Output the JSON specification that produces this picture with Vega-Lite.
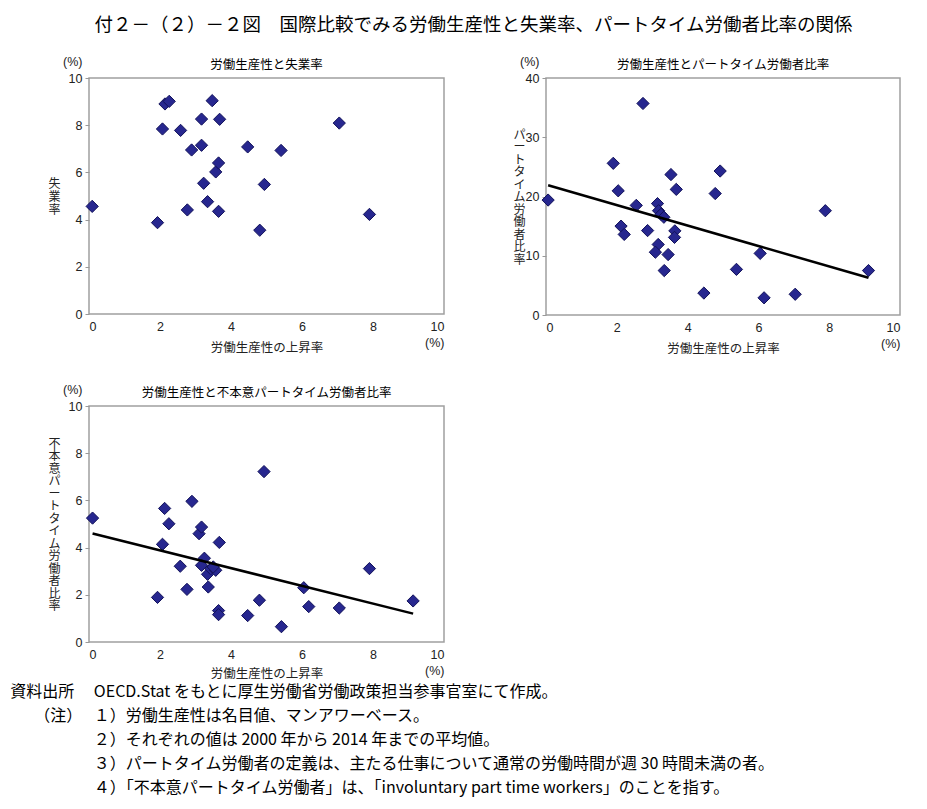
{
  "$schema": "https://vega.github.io/schema/vega-lite/v6.json",
  "padding": {"left": 10, "top": 15, "right": 5, "bottom": 5},
  "background": "white",
  "config": {
    "font": "Noto Sans CJK JP",
    "view": {"stroke": "#a0a0a0", "strokeWidth": 1.5},
    "axis": {
      "labelFont": "Liberation Sans",
      "labelFontSize": 12.5,
      "labelColor": "#222222",
      "titleFont": "Noto Sans CJK JP",
      "titleFontSize": 12.5,
      "titleFontWeight": "normal",
      "titleColor": "#222222",
      "grid": false,
      "domain": false,
      "tickColor": "#999999",
      "tickSize": 4,
      "labelOverlap": false,
      "labelBound": false
    },
    "title": {"font": "Noto Sans CJK JP", "fontWeight": "normal", "color": "#000000"}
  },
  "datasets": {
    "unemp": [
      {"x": 0.09, "y": 4.56}, {"x": 1.93, "y": 3.87}, {"x": 2.07, "y": 7.84}, {"x": 2.14, "y": 8.9},
      {"x": 2.26, "y": 9.01}, {"x": 2.58, "y": 7.78}, {"x": 2.77, "y": 4.41}, {"x": 2.89, "y": 6.95},
      {"x": 3.17, "y": 8.26}, {"x": 3.17, "y": 7.15}, {"x": 3.23, "y": 5.54}, {"x": 3.34, "y": 4.76},
      {"x": 3.47, "y": 9.04}, {"x": 3.57, "y": 6.02}, {"x": 3.65, "y": 6.4}, {"x": 3.68, "y": 8.25},
      {"x": 3.65, "y": 4.35}, {"x": 4.47, "y": 7.08}, {"x": 4.81, "y": 3.55}, {"x": 4.94, "y": 5.49},
      {"x": 5.41, "y": 6.93}, {"x": 7.05, "y": 8.09}, {"x": 7.9, "y": 4.22}
    ],
    "parttime": [
      {"x": 0.06, "y": 19.4}, {"x": 1.9, "y": 25.6}, {"x": 2.04, "y": 20.96}, {"x": 2.12, "y": 15.0},
      {"x": 2.21, "y": 13.6}, {"x": 2.55, "y": 18.5}, {"x": 2.74, "y": 35.7}, {"x": 2.87, "y": 14.25},
      {"x": 3.15, "y": 18.8}, {"x": 3.18, "y": 17.6}, {"x": 3.25, "y": 17.0}, {"x": 3.33, "y": 16.5},
      {"x": 3.17, "y": 11.9}, {"x": 3.09, "y": 10.6}, {"x": 3.34, "y": 7.5}, {"x": 3.45, "y": 10.2},
      {"x": 3.53, "y": 23.7}, {"x": 3.64, "y": 14.2}, {"x": 3.63, "y": 13.1}, {"x": 3.68, "y": 21.2},
      {"x": 4.46, "y": 3.7}, {"x": 4.78, "y": 20.5}, {"x": 4.92, "y": 24.3}, {"x": 5.38, "y": 7.7},
      {"x": 6.05, "y": 10.4}, {"x": 6.16, "y": 2.9}, {"x": 7.04, "y": 3.5}, {"x": 7.89, "y": 17.6},
      {"x": 9.11, "y": 7.5}
    ],
    "involuntary": [
      {"x": 0.1, "y": 5.25}, {"x": 1.93, "y": 1.89}, {"x": 2.07, "y": 4.14}, {"x": 2.13, "y": 5.66},
      {"x": 2.25, "y": 5.01}, {"x": 2.57, "y": 3.21}, {"x": 2.76, "y": 2.23}, {"x": 2.9, "y": 5.96},
      {"x": 3.1, "y": 4.59}, {"x": 3.17, "y": 4.87}, {"x": 3.25, "y": 3.55}, {"x": 3.17, "y": 3.25},
      {"x": 3.34, "y": 2.87}, {"x": 3.36, "y": 2.33}, {"x": 3.43, "y": 3.1}, {"x": 3.57, "y": 3.04},
      {"x": 3.5, "y": 3.18}, {"x": 3.65, "y": 1.33}, {"x": 3.65, "y": 1.16}, {"x": 3.67, "y": 4.22},
      {"x": 4.47, "y": 1.12}, {"x": 4.8, "y": 1.77}, {"x": 4.93, "y": 7.22}, {"x": 5.42, "y": 0.65},
      {"x": 6.05, "y": 2.3}, {"x": 6.19, "y": 1.5}, {"x": 7.05, "y": 1.44}, {"x": 7.9, "y": 3.11},
      {"x": 9.13, "y": 1.74}
    ]
  },
  "title": {
    "text": "付２－（２）－２図　国際比較でみる労働生産性と失業率、パートタイム労働者比率の関係",
    "fontSize": 18.5,
    "anchor": "middle",
    "offset": 20,
    "dx": 18
  },
  "vconcat": [
    {
      "title": {
        "text": [
          "資料出所　 OECD.Stat をもとに厚生労働省労働政策担当参事官室にて作成。",
          "​　　（注）　 １）労働生産性は名目値、マンアワーベース。",
          "​　　　　　 ２）それぞれの値は 2000 年から 2014 年までの平均値。",
          "​　　　　　 ３）パートタイム労働者の定義は、主たる仕事について通常の労働時間が週 30 時間未満の者。",
          "​　　　　　 ４）「不本意パートタイム労働者」は、「involuntary part time workers」のことを指す。"
        ],
        "orient": "bottom",
        "anchor": "start",
        "fontSize": 16,
        "lineHeight": 24,
        "offset": 4,
        "dx": -37
      },
      "spacing": 26,
      "vconcat": [
        {
          "spacing": 67,
          "hconcat": [
            {
              "width": 355,
              "height": 236,
              "title": {"text": "労働生産性と失業率", "fontSize": 12.5, "offset": -16.5},
              "data": {"name": "unemp"},
              "mark": {"type": "point", "shape": "diamond", "filled": true, "size": 150, "fill": "#27278f", "stroke": "#12125a", "strokeWidth": 1, "opacity": 1},
              "encoding": {
                "x": {"field": "x", "type": "quantitative", "scale": {"domain": [0, 10], "nice": false},
                  "axis": {"values": [0, 2, 4, 6, 8, 10], "labelExpr": "datum.value == 10 ? ['10', '(%)'] : datum.label", "ticks": false, "labelPadding": 6, "labelLineHeight": 16, "title": "労働生産性の上昇率", "titleY": 33, "titleBaseline": "middle"}},
                "y": {"field": "y", "type": "quantitative", "scale": {"domain": [0, 10], "nice": false},
                  "axis": {"values": [0, 2, 4, 6, 8, 10], "labelExpr": "datum.value == 10 ? ['(%)', '10'] : datum.label", "labelLineHeight": 17, "labelOffset": {"condition": {"test": "datum.value == 10", "value": -17}, "value": 0}, "labelPadding": 3, "title": ["失", "業", "率"], "titleFontSize": 12, "titleAngle": 0, "titleX": -35, "titleY": 105, "titleAlign": "center", "titleBaseline": "middle", "titleLineHeight": 13}}
              }
            },
            {
              "width": 354,
              "height": 237,
              "title": {"text": "労働生産性とパートタイム労働者比率", "fontSize": 12.5, "offset": -16.5},
              "data": {"name": "parttime"},
              "encoding": {
                "x": {"field": "x", "type": "quantitative", "scale": {"domain": [0, 10], "nice": false},
                  "axis": {"values": [0, 2, 4, 6, 8, 10], "labelExpr": "datum.value == 10 ? ['10', '(%)'] : datum.label", "ticks": false, "labelPadding": 6, "labelLineHeight": 16, "title": "労働生産性の上昇率", "titleY": 33, "titleBaseline": "middle"}},
                "y": {"field": "y", "type": "quantitative", "scale": {"domain": [0, 40], "nice": false},
                  "axis": {"values": [0, 10, 20, 30, 40], "labelExpr": "datum.value == 40 ? ['(%)', '40'] : datum.label", "labelLineHeight": 17, "labelOffset": {"condition": {"test": "datum.value == 40", "value": -17}, "value": 0}, "labelPadding": 3, "title": ["パ", "ー", "ト", "タ", "イ", "ム", "労", "働", "者", "比", "率"], "titleFontSize": 12, "titleAngle": 0, "titleX": -27, "titleY": 56, "titleAlign": "center", "titleBaseline": "middle", "titleLineHeight": 12.5}}
              },
              "layer": [
                {"mark": {"type": "point", "shape": "diamond", "filled": true, "size": 150, "fill": "#27278f", "stroke": "#12125a", "strokeWidth": 1, "opacity": 1}},
                {"transform": [{"regression": "y", "on": "x"}], "mark": {"type": "line", "color": "#000000", "strokeWidth": 2.5}}
              ]
            }
          ]
        },
        {
          "width": 355,
          "height": 236,
          "title": {"text": "労働生産性と不本意パートタイム労働者比率", "fontSize": 12.5, "offset": -16.5},
          "data": {"name": "involuntary"},
          "encoding": {
            "x": {"field": "x", "type": "quantitative", "scale": {"domain": [0, 10], "nice": false},
              "axis": {"values": [0, 2, 4, 6, 8, 10], "labelExpr": "datum.value == 10 ? ['10', '(%)'] : datum.label", "ticks": false, "labelPadding": 6, "labelLineHeight": 16, "title": "労働生産性の上昇率", "titleY": 31, "titleBaseline": "middle"}},
            "y": {"field": "y", "type": "quantitative", "scale": {"domain": [0, 10], "nice": false},
              "axis": {"values": [0, 2, 4, 6, 8, 10], "labelExpr": "datum.value == 10 ? ['(%)', '10'] : datum.label", "labelLineHeight": 17, "labelOffset": {"condition": {"test": "datum.value == 10", "value": -17}, "value": 0}, "labelPadding": 3, "title": ["不", "本", "意", "パ", "ー", "ト", "タ", "イ", "ム", "労", "働", "者", "比", "率"], "titleFontSize": 12, "titleAngle": 0, "titleX": -35, "titleY": 37, "titleAlign": "center", "titleBaseline": "middle", "titleLineHeight": 12.5}}
          },
          "layer": [
            {"mark": {"type": "point", "shape": "diamond", "filled": true, "size": 150, "fill": "#27278f", "stroke": "#12125a", "strokeWidth": 1, "opacity": 1}},
            {"transform": [{"regression": "y", "on": "x"}], "mark": {"type": "line", "color": "#000000", "strokeWidth": 2.5}}
          ]
        }
      ]
    }
  ]
}
